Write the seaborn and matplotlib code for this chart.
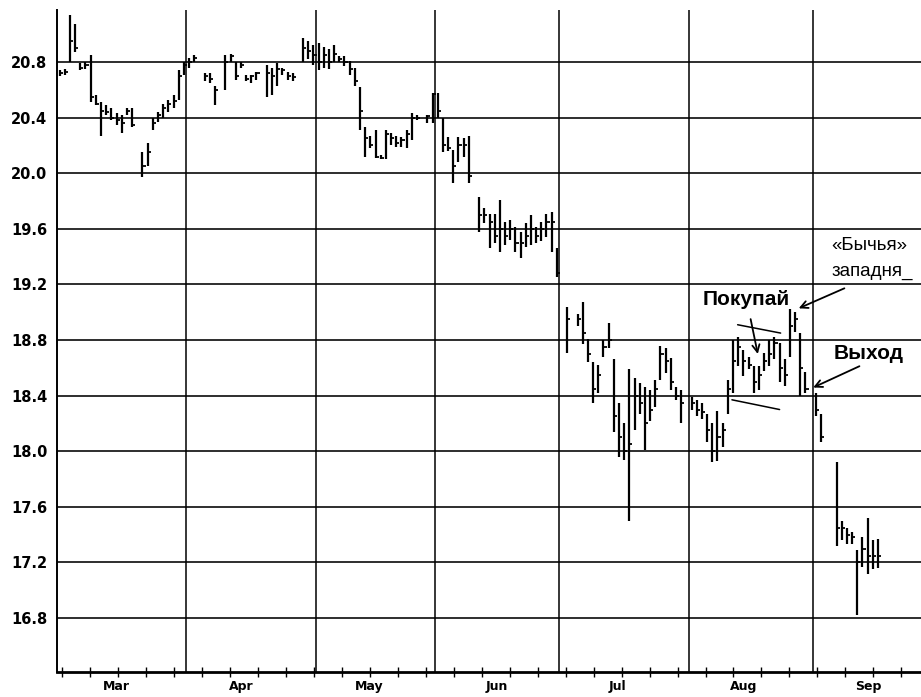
import numpy as np
import pandas as pd
import matplotlib
matplotlib.use("Agg")
import matplotlib.pyplot as plt
import seaborn as sns

# daily bars: trading-day index, high, low, close
day = [0, 1, 2, 3, 4, 5, 6, 7, 8, 9, 10, 11, 12, 13, 14, 16, 17, 18, 19, 20, 21, 22, 23, 24,
       25, 26, 28, 29, 30, 32, 33, 34, 35, 36, 37, 38, 40, 41, 42, 43, 44, 45, 47, 48, 49,
       50, 51, 52, 53, 54, 55, 56, 57, 58, 59, 60, 61, 62, 63, 64, 65, 66, 67, 68, 69, 71, 72,
       73, 74, 75, 76, 77, 78, 79, 81, 82, 83, 84, 85, 86, 87, 88, 89, 90, 91, 92, 93, 94, 95, 96,
       98, 100, 101, 102, 103, 104, 105, 106, 107, 108, 109, 110, 111, 112, 113, 114, 115, 116,
       117, 118, 119, 120,
       122, 123, 124, 125, 126, 127, 128, 129, 130, 131, 132, 133, 134, 135, 136, 137, 138, 139,
       140, 141, 142, 143, 144,
       146, 147, 150, 151, 152, 153, 154, 155, 156, 157, 158]
high = [20.74, 20.75, 21.14, 21.07, 20.79, 20.80, 20.85, 20.56, 20.51, 20.49, 20.47, 20.43, 20.42,
        20.47, 20.47, 20.15, 20.22, 20.40, 20.44, 20.50, 20.53, 20.56, 20.74, 20.80,
        20.83, 20.85, 20.72, 20.72, 20.63, 20.85, 20.86, 20.80, 20.80, 20.71, 20.71, 20.73,
        20.78, 20.76, 20.79, 20.76, 20.73, 20.72, 20.97, 20.95, 20.92,
        20.94, 20.91, 20.89, 20.92, 20.84, 20.84, 20.81, 20.76, 20.62, 20.33, 20.27, 20.31,
        20.13, 20.31, 20.29, 20.27, 20.26, 20.31, 20.43, 20.42, 20.42, 20.58,
        20.58, 20.40, 20.26, 20.17, 20.26, 20.25, 20.27, 19.83, 19.75, 19.71, 19.71, 19.81,
        19.65, 19.66, 19.61, 19.58, 19.64, 19.70, 19.61, 19.65, 19.71, 19.72, 19.46,
        19.04, 18.99, 19.07, 18.81, 18.64, 18.62, 18.80, 18.92, 18.66, 18.35, 18.20, 18.59,
        18.53, 18.49, 18.46, 18.44, 18.51, 18.76, 18.74, 18.67, 18.46, 18.44,
        18.39, 18.37, 18.35, 18.27, 18.20, 18.29, 18.20, 18.51, 18.80, 18.82, 18.73, 18.68,
        18.61, 18.61, 18.71, 18.80, 18.82, 18.78, 18.66, 19.02, 19.00, 18.85, 18.57,
        18.42, 18.27, 17.92, 17.50, 17.45, 17.42, 17.29, 17.38, 17.52, 17.36, 17.37]
low = [20.70, 20.71, 20.80, 20.87, 20.74, 20.75, 20.51, 20.49, 20.27, 20.42, 20.38, 20.35, 20.29,
       20.42, 20.33, 19.97, 20.05, 20.31, 20.37, 20.40, 20.44, 20.47, 20.53, 20.71,
       20.76, 20.80, 20.66, 20.65, 20.49, 20.60, 20.80, 20.67, 20.76, 20.66, 20.65, 20.67,
       20.55, 20.56, 20.63, 20.71, 20.67, 20.66, 20.80, 20.82, 20.78,
       20.74, 20.76, 20.75, 20.80, 20.80, 20.77, 20.71, 20.63, 20.31, 20.12, 20.18, 20.11,
       20.10, 20.10, 20.20, 20.19, 20.19, 20.18, 20.24, 20.38, 20.36, 20.36,
       20.40, 20.15, 20.16, 19.93, 20.08, 20.12, 19.93, 19.58, 19.64, 19.46, 19.50, 19.43,
       19.48, 19.52, 19.43, 19.39, 19.47, 19.48, 19.50, 19.51, 19.54, 19.43, 19.25,
       18.71, 18.90, 18.77, 18.64, 18.35, 18.42, 18.68, 18.74, 18.14, 17.96, 17.94, 17.50,
       18.15, 18.27, 18.01, 18.22, 18.32, 18.51, 18.56, 18.44, 18.37, 18.20,
       18.30, 18.25, 18.23, 18.07, 17.92, 17.93, 18.03, 18.27, 18.42, 18.61, 18.54, 18.59,
       18.42, 18.44, 18.58, 18.61, 18.66, 18.50, 18.47, 18.68, 18.86, 18.40, 18.42,
       18.25, 18.07, 17.32, 17.36, 17.33, 17.33, 16.82, 17.17, 17.12, 17.15, 17.16]
close = [20.72, 20.73, 20.95, 20.90, 20.76, 20.78, 20.55, 20.50, 20.45, 20.44, 20.40, 20.38, 20.36,
         20.45, 20.35, 20.05, 20.15, 20.36, 20.42, 20.47, 20.50, 20.52, 20.70, 20.78,
         20.80, 20.83, 20.70, 20.68, 20.60, 20.80, 20.84, 20.70, 20.78, 20.68, 20.70, 20.72,
         20.72, 20.70, 20.75, 20.74, 20.70, 20.69, 20.90, 20.88, 20.85,
         20.80, 20.85, 20.80, 20.86, 20.82, 20.80, 20.75, 20.66, 20.45, 20.25, 20.20, 20.12,
         20.11, 20.28, 20.25, 20.22, 20.24, 20.28, 20.40, 20.40, 20.41, 20.57,
         20.45, 20.20, 20.18, 20.05, 20.20, 20.20, 19.98, 19.70, 19.70, 19.65, 19.55, 19.60,
         19.55, 19.60, 19.50, 19.50, 19.55, 19.60, 19.55, 19.60, 19.65, 19.65, 19.28,
         18.95, 18.95, 18.85, 18.70, 18.45, 18.55, 18.75, 18.80, 18.25, 18.10, 18.00, 18.05,
         18.40, 18.35, 18.20, 18.30, 18.45, 18.70, 18.65, 18.50, 18.40, 18.35,
         18.35, 18.30, 18.28, 18.15, 18.00, 18.10, 18.15, 18.45, 18.65, 18.75, 18.65, 18.62,
         18.50, 18.55, 18.65, 18.70, 18.78, 18.60, 18.55, 18.90, 18.95, 18.60, 18.45,
         18.30, 18.10, 17.45, 17.45, 17.40, 17.38, 17.20, 17.30, 17.25, 17.25, 17.25]

month_edges = [24.5, 49.5, 72.5, 96.5, 121.5, 145.5]
month_mid = [10.9, 35.0, 59.7, 84.4, 107.6, 132.1, 156.1]
month_names = ["Mar", "Apr", "May", "Jun", "Jul", "Aug", "Sep"]
price_ticks = [16.8, 17.2, 17.6, 18.0, 18.4, 18.8, 19.2, 19.6, 20.0, 20.4, 20.8]

df = pd.DataFrame({"day": day, "high": high, "low": low, "close": close})

sns.set_theme(style="white")
plt.rcParams["font.family"] = ["DejaVu Sans"]
plt.rcParams["text.color"] = "black"

fig = plt.figure(figsize=(9.21, 6.97), dpi=100)
ax = fig.add_axes([57 / 921, 25 / 697, 864 / 921, 662 / 697])

# grid
for p in price_ticks:
    ax.axhline(p, color="#1c1c1c", lw=1.3, zorder=0)
for e in month_edges:
    ax.axvline(e, color="black", lw=1.1, zorder=0)

# HLC bars
ax.vlines(df["day"], df["low"], df["high"], color="black", lw=1.6, zorder=3)
ax.hlines(df["close"], df["day"], df["day"] + 0.6, color="black", lw=1.3, zorder=3)

ax.set_xlim(-0.5, 166.3)
ax.set_ylim(16.412, 21.174)

sns.despine(ax=ax, top=True, right=True)
ax.spines["left"].set_color("black")
ax.spines["left"].set_linewidth(1.4)
ax.spines["bottom"].set_color("black")
ax.spines["bottom"].set_linewidth(2.0)

ax.set_yticks(price_ticks)
ax.set_yticklabels([f"{p:.1f}" for p in price_ticks], fontsize=10.5, fontweight="bold")
ax.tick_params(axis="y", length=0, pad=7, colors="black")

ax.set_xticks(month_edges)
ax.set_xticklabels([])
ax.set_xticks(np.arange(0.5, 166, 5.4), minor=True)
ax.tick_params(axis="x", which="major", direction="inout", length=14, width=1.1, color="black")
ax.tick_params(axis="x", which="minor", direction="inout", length=7, width=1.0, color="black", bottom=True)

for m, name in zip(month_mid, month_names):
    ax.text(m, -0.012, name, transform=ax.get_xaxis_transform(), ha="center", va="top",
            fontsize=9, fontweight="bold", color="black")

# annotations
ann_font = ["Liberation Sans", "DejaVu Sans"]
arrow = dict(arrowstyle="->", color="black", lw=1.3, mutation_scale=13)
ax.text(156.4, 19.48, "«Бычья»", ha="center", va="center", fontsize=13.5,
        family=ann_font, color="black")
ax.text(149.1, 19.29, "западня_", ha="left", va="center", fontsize=13.5,
        family=ann_font, color="black")
ax.annotate("", xy=(142.2, 19.02), xytext=(152.0, 19.18), arrowprops=arrow)

ax.text(132.5, 19.09, "Покупай", ha="center", va="center", fontsize=15,
        fontweight="bold", family=ann_font, color="black")
ax.annotate("", xy=(134.9, 18.68), xytext=(133.3, 18.97), arrowprops=arrow)
ax.plot([130.9, 139.2], [18.91, 18.85], color="black", lw=1.1)
ax.plot([129.8, 139.0], [18.37, 18.30], color="black", lw=1.1)

ax.text(156.1, 18.70, "Выход", ha="center", va="center", fontsize=15,
        fontweight="bold", family=ann_font, color="black")
ax.annotate("", xy=(145.0, 18.45), xytext=(154.9, 18.62), arrowprops=arrow)

fig.savefig("out.png", dpi=100, facecolor="white")
